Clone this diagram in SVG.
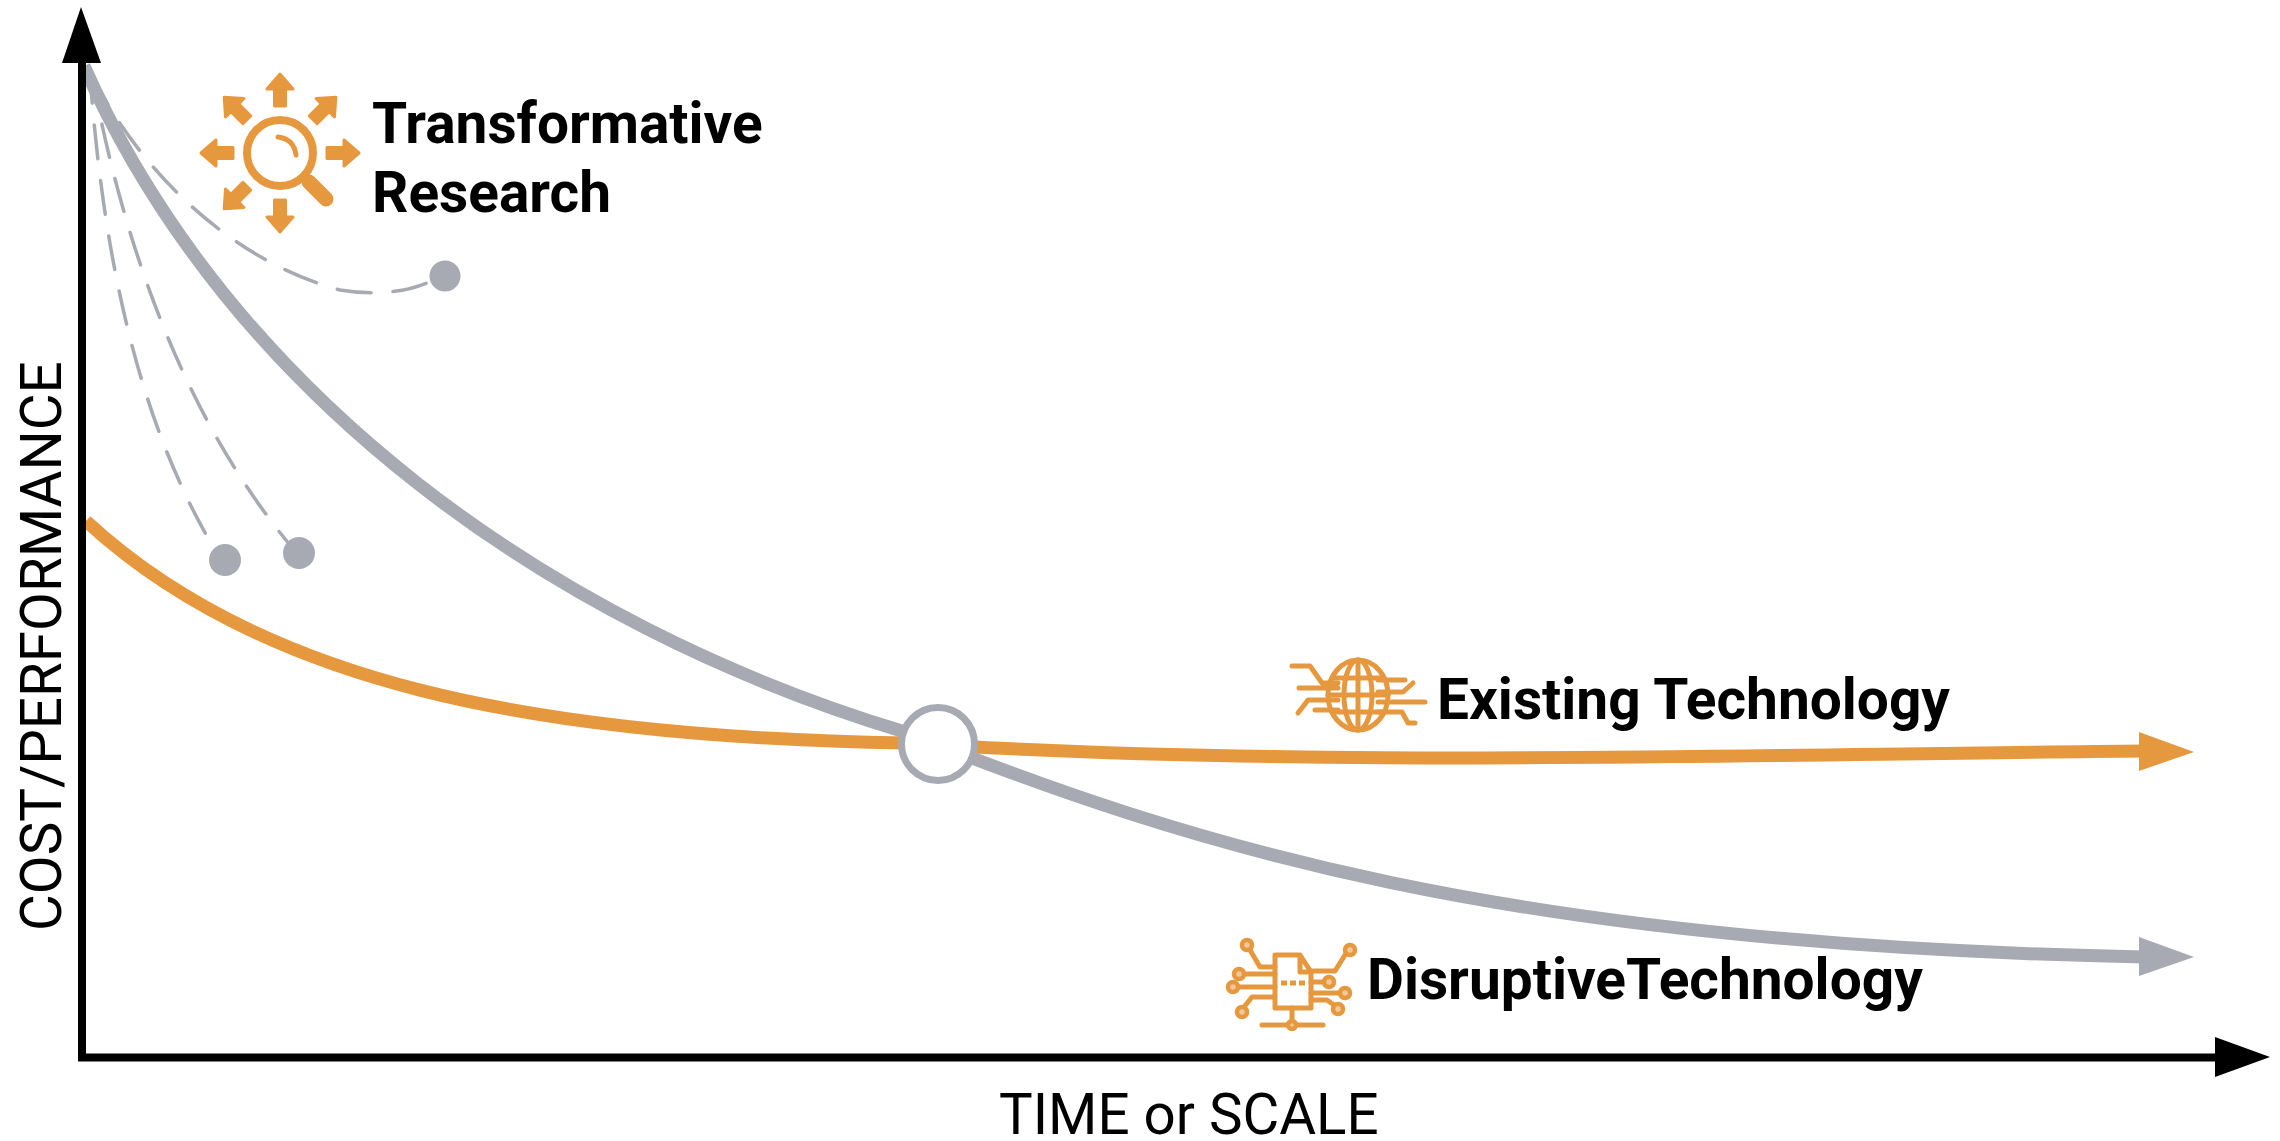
<svg xmlns="http://www.w3.org/2000/svg" width="2280" height="1141" viewBox="0 0 2280 1141">
<style>
.lbl{font-family:Roboto,"Liberation Sans",sans-serif;font-size:56.800px;font-weight:700;fill:#000}
.axl{font-family:Roboto,"Liberation Sans",sans-serif;font-size:56.500px;font-weight:400;fill:#000}
.ax{fill:none;stroke:#000;stroke-width:8}
.gr{fill:none;stroke:#a7aab2;stroke-width:13}
.or{fill:none;stroke:#e6983f;stroke-width:13}
.da{fill:none;stroke:#a7aab2;stroke-width:3.500;stroke-dasharray:34 22;stroke-linecap:round}
.ic{fill:none;stroke:#e6983f;stroke-width:5;stroke-linecap:round;stroke-linejoin:round}
.icd{fill:#f3c898;stroke:#e6983f;stroke-width:4.500}
</style>
<defs>
<path id="ray" d="M280 74 L293 89 L285.500 89 L285.500 106 L274.500 106 L274.500 89 L267 89 Z" fill="#e6983f" stroke="#e6983f" stroke-width="3" stroke-linejoin="round"/>
</defs>
<rect width="2280" height="1141" fill="#fff"/>
<g id="connectors">
<path class="da" style="stroke-dashoffset:49" d="M88 68 C140 175 235 262 340 290 C375 296 410 292 433 280"/>
<path class="da" style="stroke-dashoffset:6" d="M92 75 C128 270 195 430 290 545"/>
<path class="da" style="stroke-dashoffset:6" d="M90 75 C105 280 145 430 212 545"/>
<path class="gr" d="M84 66 C230 395 550 625 905 732 C1190 845 1500 945 2145 957"/>
<path class="or" d="M86 521 C260 682 530 737 905 743 C1300 768 1700 755 2145 751"/>
<path fill="#e6983f" d="M2139 732 L2194 752 L2139 771 Z"/>
<path fill="#a7aab2" d="M2139 937 L2194 957 L2139 976 Z"/>
<path class="ax" d="M82 60 V1057.500 H2220"/>
<path fill="#000" d="M81 7 L101 63 H62 Z"/>
<path fill="#000" d="M2215 1037 L2270 1057 L2215 1077 Z"/>
</g>
<g id="end-research-1"><circle cx="445" cy="276" r="15.500" fill="#a7aab2"/></g>
<g id="end-research-2"><circle cx="299" cy="553" r="16" fill="#a7aab2"/></g>
<g id="end-research-3"><circle cx="225" cy="560" r="16" fill="#a7aab2"/></g>
<g id="crossover"><circle cx="938" cy="744" r="36.500" fill="#fff" stroke="#a7aab2" stroke-width="7"/></g>
<g id="transformative-research">
<circle cx="280" cy="153" r="33" fill="none" stroke="#e6983f" stroke-width="8"/>
<path d="M309 182 L326 199" fill="none" stroke="#e6983f" stroke-width="15" stroke-linecap="round"/>
<path d="M278 137 Q294 139 296 155" fill="none" stroke="#e6983f" stroke-width="5" stroke-linecap="round"/>
<use href="#ray"/>
<use href="#ray" transform="rotate(45 280 153)"/>
<use href="#ray" transform="rotate(90 280 153)"/>
<use href="#ray" transform="rotate(180 280 153)"/>
<use href="#ray" transform="rotate(225 280 153)"/>
<use href="#ray" transform="rotate(270 280 153)"/>
<use href="#ray" transform="rotate(315 280 153)"/>
<text class="lbl" x="372" y="143">Transformative</text>
<text class="lbl" x="372" y="212">Research</text>
</g>
<g id="existing-technology">
<g class="ic">
<ellipse cx="1358" cy="695" rx="30" ry="35"/>
<ellipse cx="1358" cy="695" rx="14" ry="35"/>
<path d="M1358 660 V730 M1332 678 H1384 M1328 695 H1388 M1332 712 H1384"/>
<path d="M1292 666 H1310 L1322 683 H1338 M1299 688 H1338 M1298 713 L1308 700 H1338 M1315 710 H1338 M1378 680 H1405 M1413 683 L1403 692 H1378 M1378 702 H1425 M1378 712 H1402 L1408 723 H1415"/>
</g>
<text class="lbl" x="1437" y="719">Existing Technology</text>
</g>
<g id="disruptive-technology">
<g class="ic">
<path d="M1275 955 H1300 L1311 972 V1008 H1275 Z M1300 955 V972 H1311"/>
<path d="M1281 983 H1305" stroke-dasharray="6 3" stroke-linecap="butt"/>
<path d="M1250 950 L1260 967 H1275 M1244 974 H1275 M1238 987 H1275 M1244 1007 L1252 997 H1273 M1345 955 L1335 971 H1311 M1311 982 H1323 M1311 993 H1339 M1311 1000 H1327 L1334 1005 M1292 1008 V1025 M1262 1025 H1323"/>
</g>
<g class="icd">
<circle cx="1247" cy="945" r="5"/><circle cx="1239" cy="974" r="5"/><circle cx="1233" cy="987" r="5"/><circle cx="1242" cy="1012" r="5"/><circle cx="1350" cy="950" r="5"/><circle cx="1329" cy="982" r="5"/><circle cx="1345" cy="993" r="5"/><circle cx="1338" cy="1009" r="5"/>
<circle cx="1292" cy="1025" r="4"/>
</g>
<text class="lbl" x="1367" y="999">DisruptiveTechnology</text>
</g>
<g id="x-axis-label"><text class="axl" x="999" y="1134">TIME or SCALE</text></g>
<g id="y-axis-label"><text class="axl" transform="translate(61 931) rotate(-90)">COST/PERFORMANCE</text></g>
</svg>
